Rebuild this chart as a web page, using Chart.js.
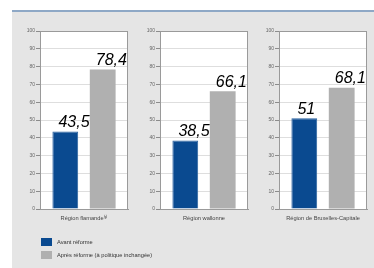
<!DOCTYPE html>
<html>
<head>
<meta charset="utf-8">
<script src="https://cdn.jsdelivr.net/npm/chart.js@4/dist/chart.umd.min.js"></script>
<style>
  body { margin: 0; background: #fff; width: 374px; height: 268px; overflow: hidden; position: relative; }
  #panel { position: absolute; left: 12px; top: 10px; width: 362px; height: 256px; background: #e5e5e5; border-top: 2px solid #8ea8c6; }
  canvas { position: absolute; top: 20px; }
  #legend { position: absolute; left: 41px; top: 235px; font: 5.7px "Liberation Sans", Arial, sans-serif; color: #333; }
  .item { display: flex; align-items: center; height: 13px; }
  .box { width: 11px; height: 8px; margin-right: 5px; }
</style>
</head>
<body>
<div id="panel"></div>
<canvas id="c0" width="120" height="230" style="left:12px"></canvas>
<canvas id="c1" width="120" height="230" style="left:132px"></canvas>
<canvas id="c2" width="120" height="230" style="left:251px"></canvas>
<div id="legend"></div>
<script>
const regions = ["Région flamande⁽³⁾", "Région wallonne", "Région de Bruxelles-Capitale"];
const avant = [43.5, 38.5, 51];
const apres = [78.4, 66.1, 68.1];
const seriesNames = ["Avant réforme", "Après réforme (à politique inchangée)"];
const seriesColors = ["#0a4a90", "#b0b0b0"];
const yMax = 100;
const yStep = 10;

// white plot area + grey frame
const plotBg = {
  id: "plotBg",
  beforeDraw(chart) {
    const { ctx, chartArea: a } = chart;
    ctx.save();
    ctx.fillStyle = "#fff";
    ctx.fillRect(a.left, a.top, a.right - a.left, a.bottom - a.top);
    ctx.restore();
  },
  beforeDatasetsDraw(chart) {
    const { ctx, chartArea: a } = chart;
    ctx.save();
    ctx.strokeStyle = "#9a9a9a";
    ctx.lineWidth = 1;
    ctx.strokeRect(a.left + 0.5, a.top + 0.5, a.right - a.left - 1, a.bottom - a.top);
    ctx.restore();
  }
};

// big italic values above bars
const valueLabels = {
  id: "valueLabels",
  afterDatasetsDraw(chart) {
    const ctx = chart.ctx;
    ctx.save();
    ctx.font = "italic 16px 'Liberation Sans', Arial, sans-serif";
    ctx.fillStyle = "#000";
    ctx.textAlign = "left";
    ctx.textBaseline = "bottom";
    chart.data.datasets.forEach((ds, di) => {
      chart.getDatasetMeta(di).data.forEach((bar, i) => {
        const txt = String(ds.data[i]).replace(".", ",");
        ctx.fillText(txt, bar.x - bar.width / 2 + 6, bar.y - 1);
      });
    });
    ctx.restore();
  }
};

regions.forEach((region, i) => {
  new Chart(document.getElementById("c" + i), {
    type: "bar",
    data: {
      labels: [region],
      datasets: [
        { label: seriesNames[0], data: [avant[i]], backgroundColor: seriesColors[0], borderColor: "#2a629f", borderWidth: 1 },
        { label: seriesNames[1], data: [apres[i]], backgroundColor: seriesColors[1] }
      ]
    },
    options: {
      responsive: false,
      animation: false,
      events: [],
      categoryPercentage: 0.85,
      barPercentage: 0.69,
      layout: { padding: { top: 11, right: 4, left: 0, bottom: 0 } },
      plugins: { legend: { display: false }, tooltip: { enabled: false } },
      scales: {
        x: {
          grid: { display: false, drawTicks: false },
          border: { color: "#9a9a9a" },
          ticks: { padding: 6, maxRotation: 0, autoSkip: false, color: "#444",
                   font: { family: "'Liberation Sans', Arial, sans-serif", size: 5.7 } },
          afterFit(s) { s.height = 41; }
        },
        y: {
          min: 0, max: yMax,
          grid: { color: "#dedede", tickColor: "#8c8c8c", tickLength: 4 },
          border: { color: "#8c8c8c" },
          ticks: { stepSize: yStep, padding: 1, color: "#666",
                   font: { family: "'Liberation Sans', Arial, sans-serif", size: 5 } },
          afterFit(s) { s.width = 28; }
        }
      }
    },
    plugins: [plotBg, valueLabels]
  });
});

const legend = document.getElementById("legend");
seriesNames.forEach((name, i) => {
  const row = document.createElement("div");
  row.className = "item";
  row.innerHTML = '<div class="box" style="background:' + seriesColors[i] + '"></div><span>' + name + "</span>";
  legend.appendChild(row);
});
</script>
</body>
</html>
